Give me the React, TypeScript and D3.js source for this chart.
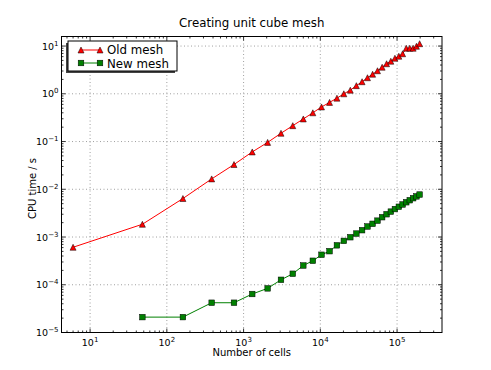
import React from 'react';
import * as d3 from 'd3';

// number of cells in the unit cube meshes (6 n^3, n = 1..32)
const cells = [
  6, 48, 162, 384, 750, 1296, 2058, 3072, 4374, 6000, 7986, 10368, 13182, 16464, 20250, 24576,
  29478, 34992, 41154, 48000, 55566, 63888, 73002, 82944, 93750, 105456, 118098, 131712, 146334,
  162000, 178746, 196608,
];

// CPU time / s, old mesh code (all sizes)
const oldMesh = [
  6.1e-4, 1.85e-3, 6.4e-3, 1.65e-2, 3.3e-2, 6.05e-2, 9.6e-2, 0.149, 0.215, 0.297, 0.4, 0.53, 0.66,
  0.81, 1.0, 1.19, 1.48, 1.79, 2.17, 2.57, 3.04, 3.6, 4.26, 4.81, 5.56, 6.12, 6.9, 9.0, 9.0, 9.0,
  9.9, 11.2,
];

// CPU time / s, new mesh code (starts at the second size)
const newMesh = [
  2.1e-5, 2.1e-5, 4.2e-5, 4.2e-5, 6.4e-5, 8.4e-5, 1.27e-4, 1.7e-4, 2.53e-4, 3.18e-4, 4.25e-4,
  5.05e-4, 6.7e-4, 8.3e-4, 9.9e-4, 1.18e-3, 1.39e-3, 1.66e-3, 1.89e-3, 2.2e-3, 2.6e-3, 3.0e-3,
  3.4e-3, 3.85e-3, 4.3e-3, 4.8e-3, 5.35e-3, 5.9e-3, 6.5e-3, 7.1e-3, 7.75e-3,
];

const xTickExp = [1, 2, 3, 4, 5];
const yTickExp = [-5, -4, -3, -2, -1, 0, 1];

const W = 491;
const H = 370;
const plot = { left: 61.5, right: 442, top: 36.5, bottom: 332.5 };
const FONT = 'DejaVu Sans, sans-serif';

const x = d3.scaleLog().domain([4.24, 3.85e5]).range([plot.left, plot.right]);
const y = d3.scaleLog().domain([1e-5, Math.pow(10, 1.2)]).range([plot.bottom, plot.top]);

// minor tick values (2..9 x decade) inside a domain
function minorTicks(lo: number, hi: number) {
  const out: number[] = [];
  for (let e = Math.floor(Math.log10(lo)); e <= Math.ceil(Math.log10(hi)); e++) {
    for (let m = 2; m <= 9; m++) {
      const v = m * Math.pow(10, e);
      if (v >= lo && v <= hi) out.push(v);
    }
  }
  return out;
}

const minus = (e: number) => (e < 0 ? '\u2212' + Math.abs(e) : String(e));

function Triangle({ cx, cy }: { cx: number; cy: number }) {
  const s = 3;
  return (
    <path
      d={`M${cx},${cy - s}L${cx - s},${cy + s}L${cx + s},${cy + s}Z`}
      fill="#ff0000"
      stroke="#000"
      strokeWidth={0.5}
    />
  );
}

function Square({ cx, cy }: { cx: number; cy: number }) {
  const s = 2.8;
  return (
    <rect x={cx - s} y={cy - s} width={2 * s} height={2 * s} fill="#008000" stroke="#000" strokeWidth={0.5} />
  );
}

export default function App() {
  const oldPts = oldMesh.map((v, i) => [x(cells[i]), y(v)] as [number, number]);
  const newPts = newMesh.map((v, i) => [x(cells[i + 1]), y(v)] as [number, number]);
  const line = d3.line();

  const xMinor = minorTicks(x.domain()[0], x.domain()[1]);
  const yMinor = minorTicks(y.domain()[0], y.domain()[1]);

  const lx = 68;
  const ly = 41;
  const lw = 109;
  const lh = 30;

  return (
    <svg width={W} height={H} style={{ display: 'block', marginTop: -8, marginLeft: -8 }} fontFamily={FONT}>
      <rect x={0} y={0} width={W} height={H} fill="#fff" />

      {/* grid */}
      <g stroke="#888" strokeWidth={0.8} strokeDasharray="1,2.5">
        {xTickExp.map(e => (
          <line key={'gx' + e} x1={x(10 ** e)} x2={x(10 ** e)} y1={plot.top} y2={plot.bottom} />
        ))}
        {yTickExp.map(e => (
          <line key={'gy' + e} x1={plot.left} x2={plot.right} y1={y(10 ** e)} y2={y(10 ** e)} />
        ))}
      </g>

      {/* series */}
      <path d={line(oldPts) || ''} fill="none" stroke="#ff0000" strokeWidth={1} />
      <path d={line(newPts) || ''} fill="none" stroke="#008000" strokeWidth={1} />
      {oldPts.map((p, i) => (
        <Triangle key={'o' + i} cx={p[0]} cy={p[1]} />
      ))}
      {newPts.map((p, i) => (
        <Square key={'n' + i} cx={p[0]} cy={p[1]} />
      ))}

      {/* ticks, inside on all four sides */}
      <g stroke="#000" strokeWidth={0.8}>
        {xTickExp.map(e => {
          const px = x(10 ** e);
          return (
            <g key={'tx' + e}>
              <line x1={px} x2={px} y1={plot.bottom} y2={plot.bottom - 4} />
              <line x1={px} x2={px} y1={plot.top} y2={plot.top + 4} />
            </g>
          );
        })}
        {xMinor.map((v, i) => {
          const px = x(v);
          return (
            <g key={'mx' + i}>
              <line x1={px} x2={px} y1={plot.bottom} y2={plot.bottom - 2} />
              <line x1={px} x2={px} y1={plot.top} y2={plot.top + 2} />
            </g>
          );
        })}
        {yTickExp.map(e => {
          const py = y(10 ** e);
          return (
            <g key={'ty' + e}>
              <line x1={plot.left} x2={plot.left + 4} y1={py} y2={py} />
              <line x1={plot.right} x2={plot.right - 4} y1={py} y2={py} />
            </g>
          );
        })}
        {yMinor.map((v, i) => {
          const py = y(v);
          return (
            <g key={'my' + i}>
              <line x1={plot.left} x2={plot.left + 2} y1={py} y2={py} />
              <line x1={plot.right} x2={plot.right - 2} y1={py} y2={py} />
            </g>
          );
        })}
      </g>

      {/* frame */}
      <rect
        x={plot.left}
        y={plot.top}
        width={plot.right - plot.left}
        height={plot.bottom - plot.top}
        fill="none"
        stroke="#000"
        strokeWidth={1}
      />

      {/* tick labels */}
      <g fill="#000" fontSize={9.5}>
        {xTickExp.map(e => (
          <text key={'lx' + e} x={x(10 ** e)} y={plot.bottom + 13} textAnchor="middle">
            10
            <tspan dy={-4} fontSize={7}>{minus(e)}</tspan>
          </text>
        ))}
        {yTickExp.map(e => (
          <text key={'ly' + e} x={plot.left - 3} y={y(10 ** e) + 3.5} textAnchor="end">
            10
            <tspan dy={-4} fontSize={7}>{minus(e)}</tspan>
          </text>
        ))}
      </g>

      {/* titles */}
      <text x={(plot.left + plot.right) / 2} y={27} textAnchor="middle" fontSize={11.8}>
        Creating unit cube mesh
      </text>
      <text x={(plot.left + plot.right) / 2} y={356} textAnchor="middle" fontSize={10}>
        Number of cells
      </text>
      <text
        transform={`translate(36,${(plot.top + plot.bottom) / 2 + 4}) rotate(-90)`}
        textAnchor="middle"
        fontSize={10}
      >
        CPU time / s
      </text>

      {/* legend */}
      <rect x={lx - 2} y={ly + 2} width={lw} height={lh} fill="#444" />
      <rect x={lx} y={ly} width={lw} height={lh} fill="#fff" stroke="#000" strokeWidth={1} />
      <line x1={81} x2={100} y1={50} y2={50} stroke="#ff0000" strokeWidth={1} />
      <Triangle cx={81} cy={50} />
      <Triangle cx={100} cy={50} />
      <text x={107} y={53.8} fontSize={11.8}>
        Old mesh
      </text>
      <line x1={81} x2={100} y1={63} y2={63} stroke="#008000" strokeWidth={1} />
      <Square cx={81} cy={63} />
      <Square cx={100} cy={63} />
      <text x={107} y={67.6} fontSize={11.8}>
        New mesh
      </text>
    </svg>
  );
}
